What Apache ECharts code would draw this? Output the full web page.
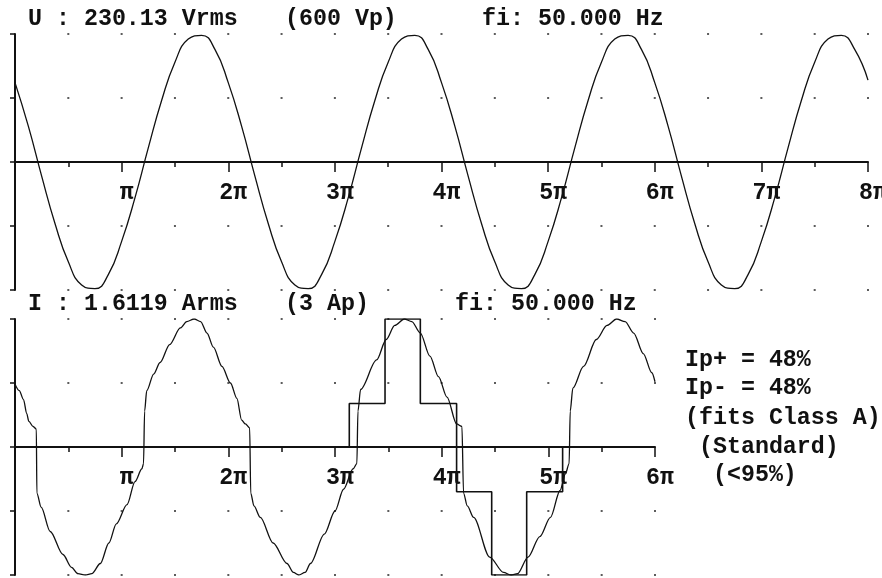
<!DOCTYPE html>
<html>
<head>
<meta charset="utf-8">
<script src="https://cdn.jsdelivr.net/npm/echarts@6/dist/echarts.min.js"></script>
<style>
  html, body { margin: 0; padding: 0; background: #fff; }
  #chart { width: 882px; height: 578px; }
</style>
</head>
<body>
<div id="chart"></div>
<script>
// angles in units of pi, amplitudes as a fraction of each panel's full scale
const piLabels = ['', 'π', '2π', '3π', '4π', '5π', '6π', '7π', '8π']
const gridLevels = [-1, -0.5, 0.5, 1]

// voltage, one reading every pi/8 from 0 to 8pi
const uStep = 0.125
const uWave = [
  0.62, 0.28, -0.11, -0.48, -0.78, -0.96, -0.99, -0.88, -0.62, -0.28, 0.11, 0.48, 0.78, 0.96, 0.99, 0.88,
  0.62, 0.28, -0.11, -0.48, -0.78, -0.96, -0.99, -0.88, -0.62, -0.28, 0.11, 0.48, 0.78, 0.96, 0.99, 0.88,
  0.62, 0.28, -0.11, -0.48, -0.78, -0.96, -0.99, -0.88, -0.62, -0.28, 0.11, 0.48, 0.78, 0.96, 0.99, 0.88,
  0.62, 0.28, -0.11, -0.48, -0.78, -0.96, -0.99, -0.88, -0.62, -0.28, 0.11, 0.48, 0.78, 0.96, 0.99, 0.88,
  0.64
]

// current, [angle, value]
const iWave = [
  [0.00, 0.49], [0.04, 0.44], [0.08, 0.37], [0.11, 0.26], [0.13, 0.20], [0.17, 0.16], [0.20, 0.14],
  [0.205, -0.36], [0.245, -0.47], [0.33, -0.66], [0.45, -0.84], [0.53, -0.94], [0.59, -0.99],
  [0.66, -1.00], [0.72, -0.99], [0.80, -0.91], [0.88, -0.75], [0.95, -0.60], [1.05, -0.45],
  [1.125, -0.27], [1.19, -0.17], [1.205, -0.13], [1.215, 0.28], [1.235, 0.44], [1.30, 0.57],
  [1.36, 0.66], [1.45, 0.80], [1.55, 0.93], [1.61, 0.98], [1.68, 1.00], [1.74, 0.98], [1.80, 0.89],
  [1.86, 0.78], [1.94, 0.63], [2.02, 0.50], [2.08, 0.38], [2.125, 0.21], [2.16, 0.18], [2.20, 0.15],
  [2.21, -0.36], [2.24, -0.46], [2.30, -0.55], [2.42, -0.75], [2.55, -0.91], [2.61, -0.98],
  [2.66, -1.00], [2.72, -0.98], [2.77, -0.91], [2.90, -0.68], [3.00, -0.50], [3.08, -0.33],
  [3.17, -0.17], [3.205, -0.13], [3.215, 0.28], [3.24, 0.45], [3.39, 0.68], [3.48, 0.84],
  [3.56, 0.95], [3.65, 1.00], [3.72, 0.98], [3.80, 0.89], [3.89, 0.71], [3.97, 0.55], [4.05, 0.39],
  [4.14, 0.18], [4.19, 0.16], [4.205, -0.36], [4.24, -0.46], [4.30, -0.55], [4.45, -0.86],
  [4.58, -0.98], [4.65, -1.00], [4.71, -0.99], [4.81, -0.86], [4.92, -0.70], [5.02, -0.55],
  [5.11, -0.34], [5.16, -0.21], [5.195, -0.13], [5.205, 0.28], [5.23, 0.46], [5.33, 0.63],
  [5.45, 0.84], [5.55, 0.95], [5.64, 1.00], [5.72, 0.98], [5.80, 0.89], [5.89, 0.73], [5.97, 0.58],
  [6.00, 0.51]
]

// class D style template corners
const iLimit = [
  [3.134, 0], [3.134, 0.34], [3.469, 0.34], [3.469, 1], [3.80, 1], [3.80, 0.34], [4.14, 0.34],
  [4.14, -0.35], [4.469, -0.35], [4.469, -1], [4.797, -1], [4.797, -0.35], [5.134, -0.35], [5.134, 0]
]

const uText = ['U : 230.13 Vrms', '(600 Vp)', 'fi: 50.000 Hz']
const iText = ['I : 1.6119 Arms', '(3 Ap)', 'fi: 50.000 Hz']
const classText = ['Ip+ = 48%', 'Ip- = 48%', '(fits Class A)', ' (Standard)', '  (<95%)']

const ink = '#111'
const font = 'Liberation Mono'
const fontSize = 23.3
const panelHeight = 256

// dotted grid: one dot per half-pi step and level
function gridDots(span) {
  const dots = []
  for (let k = 1; k <= span * 2; k++) {
    gridLevels.forEach(level => dots.push([k / 2, level]))
  }
  return dots
}

// the time axis sits on the zero line, in the middle of the panel
function xAxisFor(gridIndex, span) {
  return {
    type: 'value', gridIndex, min: 0, max: span, interval: 1,
    position: 'bottom', offset: -panelHeight / 2,
    axisLine: { show: true, onZero: false, lineStyle: { color: ink, width: 2 } },
    axisTick: { show: true, length: 10, lineStyle: { color: ink, width: 1.5 } },
    minorTick: { show: true, splitNumber: 2, length: 5, lineStyle: { color: ink, width: 1.5 } },
    axisLabel: {
      show: true, margin: 20, color: ink, fontFamily: font, fontWeight: 'bold', fontSize,
      padding: [0, 0, 0, 10],
      formatter: v => piLabels[Math.round(v)] || ''
    },
    splitLine: { show: false }
  }
}

function yAxesFor(gridIndex) {
  const base = {
    type: 'value', gridIndex, min: -1, max: 1, interval: 0.5,
    axisLabel: { show: false }, splitLine: { show: false }
  }
  return [
    Object.assign({}, base, {
      axisLine: { show: true, onZero: false, lineStyle: { color: ink, width: 2 } },
      axisTick: { show: true, length: 5, lineStyle: { color: ink, width: 1.5 } }
    }),
    Object.assign({}, base, {
      axisLine: { show: false },
      axisTick: { show: true, inside: true, length: 5, lineStyle: { color: ink, width: 1.5 } }
    })
  ]
}

function textAt(text, left, top) {
  return {
    type: 'text', left, top,
    style: { text, fill: ink, font: 'bold ' + fontSize + 'px "' + font + '"' }
  }
}

const dotStyle = {
  type: 'scatter', symbol: 'rect', symbolSize: [2, 2], silent: true,
  itemStyle: { color: '#333' }
}

const chart = echarts.init(document.getElementById('chart'))
chart.setOption({
  backgroundColor: '#fff',
  animation: false,
  grid: [
    { left: 15, top: 34, width: 853, height: panelHeight, outerBoundsMode: 'none', containLabel: false },
    { left: 15, top: 319, width: 640, height: panelHeight, outerBoundsMode: 'none', containLabel: false }
  ],
  xAxis: [xAxisFor(0, 8), xAxisFor(1, 6)],
  yAxis: yAxesFor(0).concat(yAxesFor(1)),
  graphic: [
    textAt(uText[0], 28, 8), textAt(uText[1], 285, 8), textAt(uText[2], 482, 8),
    textAt(iText[0], 28, 293), textAt(iText[1], 285, 293), textAt(iText[2], 455, 293),
    textAt(classText[0], 685, 349), textAt(classText[1], 685, 377), textAt(classText[2], 685, 407),
    textAt(classText[3], 685, 436), textAt(classText[4], 685, 464)
  ],
  series: [
    Object.assign({}, dotStyle, { xAxisIndex: 0, yAxisIndex: 0, data: gridDots(8) }),
    Object.assign({}, dotStyle, { xAxisIndex: 1, yAxisIndex: 2, data: gridDots(6) }),
    {
      type: 'line', xAxisIndex: 0, yAxisIndex: 0, smooth: true, showSymbol: false,
      lineStyle: { color: ink, width: 1.3 },
      data: uWave.map((v, i) => [i * uStep, v])
    },
    {
      type: 'line', xAxisIndex: 1, yAxisIndex: 2, smooth: 0.3, smoothMonotone: 'x', showSymbol: false,
      lineStyle: { color: ink, width: 1.3 },
      data: iWave
    },
    {
      type: 'line', xAxisIndex: 1, yAxisIndex: 2, showSymbol: false,
      lineStyle: { color: ink, width: 1.6 },
      data: iLimit
    }
  ]
})
</script>
</body>
</html>
